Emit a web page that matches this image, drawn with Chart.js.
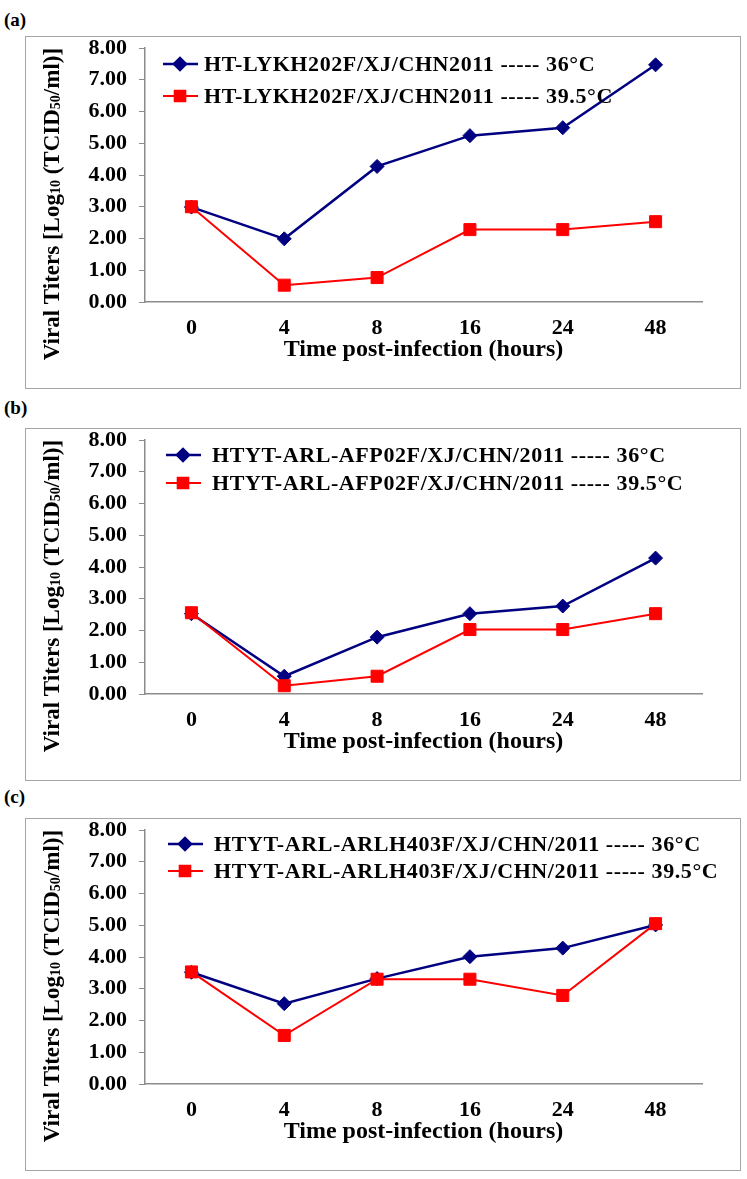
<!DOCTYPE html>
<html>
<head>
<meta charset="utf-8">
<script src="https://cdn.jsdelivr.net/npm/chart.js@4.4.1/dist/chart.umd.min.js"></script>
<style>
  body { margin: 0; background: #fff; width: 747px; height: 1179px; position: relative;
         font-family: 'Liberation Serif', 'Times New Roman', serif; }
  .tag { position: absolute; left: 4px; font-weight: bold; font-size: 19px; line-height: 20px; }
  .box { position: absolute; left: 25px; width: 716px; height: 353px; border: 1px solid #a6a6a6; box-sizing: border-box; }
  .box canvas { display: block; }
</style>
</head>
<body>
<div class="tag" style="top:10px">(a)</div>
<div class="box" style="top:36px"><canvas id="chartA" width="714" height="351"></canvas></div>
<div class="tag" style="top:398px">(b)</div>
<div class="box" style="top:428px"><canvas id="chartB" width="714" height="351"></canvas></div>
<div class="tag" style="top:787px">(c)</div>
<div class="box" style="top:818px"><canvas id="chartC" width="714" height="351"></canvas></div>

<script>
// data
var hours = ['0', '4', '8', '16', '24', '48'];
var temps = ['36\u00B0C', '39.5\u00B0C'];

var strainA = 'HT-LYKH202F/XJ/CHN2011';
var a36  = [2.99, 1.99, 4.27, 5.24, 5.49, 7.47];
var a395 = [3.00, 0.53, 0.77, 2.28, 2.28, 2.53];

var strainB = 'HTYT-ARL-AFP02F/XJ/CHN/2011';
var b36  = [2.53, 0.56, 1.79, 2.53, 2.77, 4.28];
var b395 = [2.56, 0.26, 0.56, 2.03, 2.03, 2.53];

var strainC = 'HTYT-ARL-ARLH403F/XJ/CHN/2011';
var c36  = [3.52, 2.53, 3.32, 4.01, 4.28, 5.01];
var c395 = [3.53, 1.53, 3.30, 3.30, 2.79, 5.05];

var serif = "'Liberation Serif', 'Times New Roman', serif";
Chart.defaults.font.family = serif;
Chart.defaults.color = '#000';

// legend drawn inside the plot: short line with the marker, then the label
var lineLegend = {
  id: 'lineLegend',
  afterDraw: function (chart, args, opts) {
    var ctx = chart.ctx;
    ctx.save();
    chart.data.datasets.forEach(function (ds, i) {
      var y = opts.rows[i];
      ctx.strokeStyle = ds.borderColor;
      ctx.fillStyle = ds.backgroundColor;
      ctx.lineWidth = ds.borderWidth;
      ctx.beginPath();
      ctx.moveTo(opts.x, y);
      ctx.lineTo(opts.x + 35, y);
      ctx.stroke();
      Chart.helpers.drawPoint(ctx, {pointStyle: ds.pointStyle, radius: ds.pointRadius - 1, borderWidth: 1}, opts.x + 17, y);
      ctx.fillStyle = '#000';
      ctx.font = 'bold 22px ' + serif;
      ctx.letterSpacing = '0.6px';
      ctx.textBaseline = 'middle';
      ctx.fillText(ds.label, opts.x + opts.gap, y + 1);
    });
    ctx.restore();
  }
};

// rotated y title with the small 10 / 50
var yTitle = {
  id: 'yTitle',
  afterDraw: function (chart, args, opts) {
    var ctx = chart.ctx;
    var parts = [['Viral Titers [Log', 23], ['10', 14], [' (TCID', 23], ['50', 14], ['/ml)]', 23]];
    ctx.save();
    ctx.translate(opts.x, opts.y);
    ctx.rotate(-Math.PI / 2);
    var total = 0;
    parts.forEach(function (p) {
      ctx.font = 'bold ' + p[1] + 'px ' + serif;
      total += ctx.measureText(p[0]).width;
    });
    var x = -total / 2;
    ctx.fillStyle = '#000';
    ctx.textBaseline = 'alphabetic';
    parts.forEach(function (p) {
      ctx.font = 'bold ' + p[1] + 'px ' + serif;
      ctx.fillText(p[0], x, p[1] < 20 ? 9 : 8);
      x += ctx.measureText(p[0]).width;
    });
    ctx.restore();
  }
};

function makeChart(id, strain, s36, s395, legendPos) {
  var ctx = document.getElementById(id).getContext('2d');
  return new Chart(ctx, {
    type: 'line',
    data: {
      labels: hours,
      datasets: [
        {
          label: strain + ' ----- ' + temps[0],
          data: s36,
          borderColor: '#000080',
          backgroundColor: '#000080',
          borderWidth: 2.5,
          pointStyle: 'rectRot',
          pointRadius: 7,
          pointBorderWidth: 1,
          order: 1
        },
        {
          label: strain + ' ----- ' + temps[1],
          data: s395,
          borderColor: '#ff0000',
          backgroundColor: '#ff0000',
          borderWidth: 2,
          pointStyle: 'rect',
          pointRadius: 8.5,
          pointBorderWidth: 1,
          order: 0
        }
      ]
    },
    options: {
      responsive: false,
      animation: false,
      events: [],
      layout: { padding: { top: 0, right: 38, left: 0, bottom: 0 } },
      plugins: {
        legend: { display: false },
        tooltip: { enabled: false },
        lineLegend: legendPos,
        yTitle: { x: 25, y: 167 }
      },
      scales: {
        x: {
          offset: true,
          grid: { display: false, drawTicks: false },
          border: { color: '#8c8c8c', width: 1.5 },
          ticks: { font: { size: 22, weight: 'bold' }, color: '#000', padding: 13 },
          title: {
            display: true,
            text: 'Time post-infection (hours)',
            color: '#000',
            font: { size: 24, weight: 'bold' },
            padding: { top: 0, bottom: 24 }
          },
          afterFit: function (s) { s.height = 86; }
        },
        y: {
          min: 0,
          max: 8,
          ticks: {
            stepSize: 1,
            font: { size: 22, weight: 'bold' },
            color: '#000',
            padding: 12,
            callback: function (v) { return v.toFixed(2); }
          },
          grid: { drawOnChartArea: false, drawTicks: true, tickLength: 6, color: '#8c8c8c' },
          border: { color: '#8c8c8c', width: 1.5 },
          afterFit: function (s) {
            s.width = 119;
            s.paddingTop = 11;
          }
        }
      }
    },
    plugins: [lineLegend, yTitle]
  });
}

makeChart('chartA', strainA, a36, a395, { x: 137, gap: 41, rows: [27, 59] });
makeChart('chartB', strainB, b36, b395, { x: 140, gap: 46, rows: [26, 54] });
makeChart('chartC', strainC, c36, c395, { x: 142, gap: 46, rows: [25, 52] });
</script>
</body>
</html>
